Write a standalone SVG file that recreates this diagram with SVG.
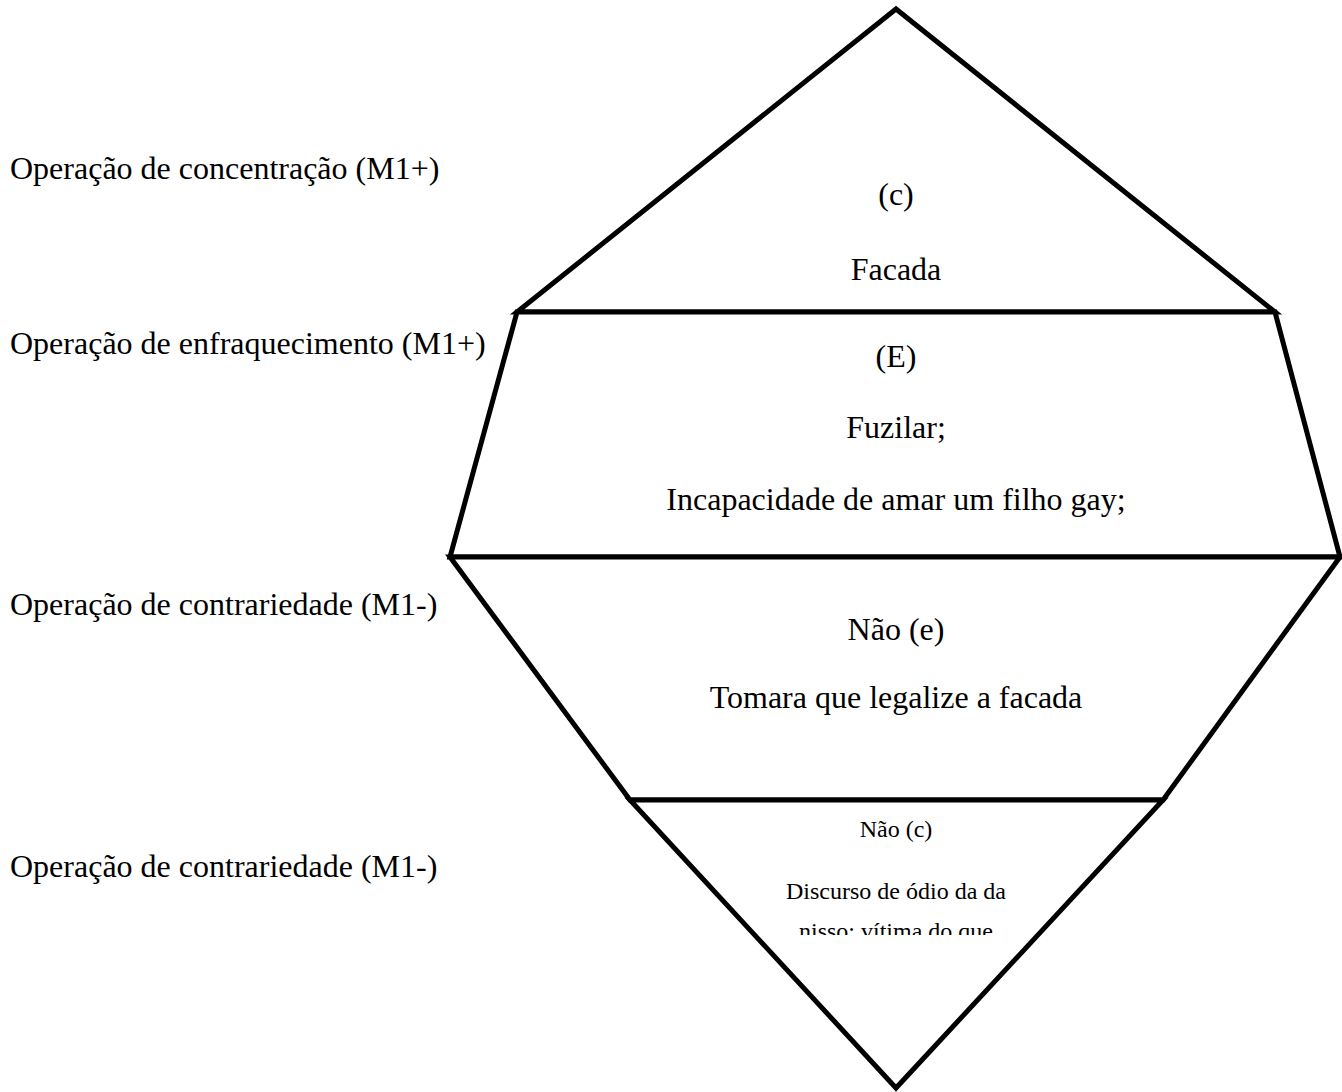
<svg xmlns="http://www.w3.org/2000/svg" width="1342" height="1092" viewBox="0 0 1342 1092">
<style>
.shape{fill:#fff;stroke:#000;stroke-width:5;stroke-linejoin:miter}
.t{font-family:"Liberation Serif","Times New Roman",serif;font-size:32px;fill:#000}
.c{text-anchor:middle}
.s{font-size:24px}
</style>
<defs>
<clipPath id="clipBottom"><rect x="700" y="805" width="400" height="130"/></clipPath>
</defs>
<rect width="1342" height="1092" fill="#fff"/>
<g id="labels">
<text class="t" x="10" y="179">Operação de concentração (M1+)</text>
<text class="t" x="10" y="354">Operação de enfraquecimento (M1+)</text>
<text class="t" x="10" y="615">Operação de contrariedade (M1-)</text>
<text class="t" x="10" y="877">Operação de contrariedade (M1-)</text>
</g>
<g id="node-concentracao">
<polygon class="shape" points="896,9 517,312 1275,312"/>
<text class="t c" x="896" y="205">(c)</text>
<text class="t c" x="896" y="280">Facada</text>
</g>
<g id="node-enfraquecimento">
<polygon class="shape" points="517,312 1275,312 1340,557 450,557"/>
<text class="t c" x="896" y="367">(E)</text>
<text class="t c" x="896" y="438">Fuzilar;</text>
<text class="t c" x="896" y="510">Incapacidade de amar um filho gay;</text>
</g>
<g id="node-contrariedade-e">
<polygon class="shape" points="450,557 1340,557 1163,800 630,800"/>
<text class="t c" x="896" y="640">Não (e)</text>
<text class="t c" x="896" y="708">Tomara que legalize a facada</text>
</g>
<g id="node-contrariedade-c">
<polygon class="shape" points="630,800 1163,800 896,1088"/>
<g clip-path="url(#clipBottom)">
<text class="t c s" x="896" y="837">Não (c)</text>
<text class="t c s" x="896" y="899">Discurso de ódio da da</text>
<text class="t c s" x="896" y="939">nisso; vítima do que</text>
</g>
</g>
<g id="connectors"/>
</svg>
